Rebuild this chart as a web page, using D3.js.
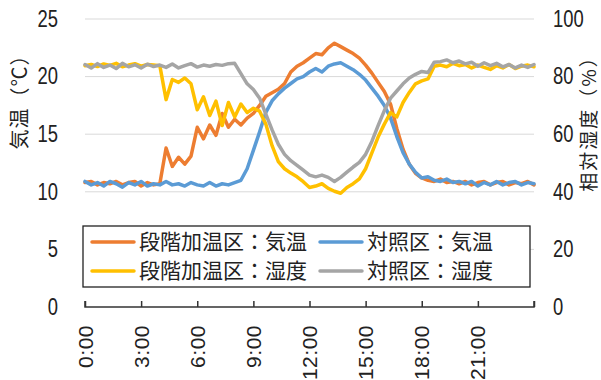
<!DOCTYPE html>
<html>
<head>
<meta charset="utf-8">
<script src="https://cdn.jsdelivr.net/npm/d3@7"></script>
<style>
  body { margin: 0; background: #fff; }
  svg text { fill: #222; }
</style>
</head>
<body>
<div id="chart"></div>
<script>
// readings every 20 minutes, 0:00 .. 24:00
const hours = d3.range(0, 73).map(i => i / 3);

const stepTemp = [10.8, 10.9, 10.6, 10.8, 10.7, 10.9, 10.6, 10.8, 10.9, 10.5, 10.8, 10.6,
  10.7, 13.8, 12.2, 13.0, 12.4, 13.1, 15.6, 14.6, 15.8, 14.9, 16.8, 15.6,
  16.3, 15.8, 16.4, 16.8, 17.5, 18.3, 18.6, 18.9, 19.4, 20.4, 20.9, 21.2,
  21.6, 22.0, 21.9, 22.5, 22.9, 22.6, 22.3, 22.0, 21.6, 21.0, 20.3, 19.5,
  18.7, 17.6, 15.5, 13.7, 12.4, 11.6, 11.2, 11.0, 10.9, 11.1, 10.8, 10.9,
  10.7, 10.9, 10.6, 10.8, 10.9, 10.6, 10.8, 10.9, 10.6, 10.8, 10.7, 10.9, 10.6];

const ctrlTemp = [10.9, 10.6, 10.8, 10.5, 10.9, 10.7, 10.4, 10.8, 10.6, 10.9, 10.5, 10.7,
  10.6, 10.9, 10.6, 10.7, 10.5, 10.8, 10.6, 10.5, 10.8, 10.5, 10.7, 10.6,
  10.8, 11.0, 12.0, 13.6, 15.2, 16.9, 17.9, 18.5, 19.0, 19.4, 19.8, 20.0,
  20.4, 20.7, 20.4, 20.9, 21.1, 21.2, 20.9, 20.6, 20.2, 19.7, 19.0, 18.3,
  17.5, 16.4, 14.8, 13.4, 12.4, 11.7, 11.2, 11.3, 11.0, 10.9, 11.1, 10.8,
  10.9, 10.7, 10.9, 10.5, 10.8, 10.6, 10.9, 10.6, 10.8, 10.9, 10.6, 10.8, 10.7];

const stepHum = [83.8, 84.2, 83.5, 84.4, 83.9, 84.6, 83.4, 84.0, 84.5, 83.6, 84.2, 84.0,
  83.8, 72.0, 79.0, 78.0, 79.5, 77.5, 68.5, 73.0, 66.5, 71.5, 63.0, 71.0,
  66.0, 70.5, 67.5, 69.0, 68.0, 63.5, 56.0, 50.5, 48.0, 46.5, 45.2, 43.5,
  41.5, 42.0, 42.8, 41.2, 40.2, 39.5, 41.5, 42.8, 44.5, 48.0, 53.5, 59.0,
  63.5, 67.5, 66.0, 71.0, 74.5, 77.5, 78.5, 79.2, 83.6, 84.0, 83.4, 84.6,
  83.8, 84.2, 83.0, 84.0, 83.2, 82.5, 83.8, 83.0, 84.2, 82.8, 83.6, 84.0, 83.4];

const ctrlHum = [84.2, 83.0, 84.5, 83.2, 84.0, 82.8, 84.6, 83.4, 84.1, 83.0, 84.3, 83.5,
  84.0, 83.2, 84.4, 83.0, 83.8, 84.5, 83.3, 84.0, 83.6, 84.2, 83.9, 84.5,
  84.6, 81.0, 77.5, 75.5, 72.5, 67.0, 61.5, 56.5, 53.0, 50.8, 49.2, 47.5,
  45.8, 45.2, 45.8, 45.0, 43.6, 45.0, 46.8, 48.6, 50.2, 53.0, 57.5, 63.0,
  68.2, 72.5, 75.0, 77.5, 79.5, 80.8, 81.8, 81.4, 85.0, 85.2, 85.8, 84.8,
  85.4, 84.4, 85.0, 83.6, 84.8, 83.8, 84.6, 83.4, 84.2, 83.0, 84.0, 83.2, 84.2];

const timeTicks = [0, 3, 6, 9, 12, 15, 18, 21, 24];
const timeLabels = ["0:00", "3:00", "6:00", "9:00", "12:00", "15:00", "18:00", "21:00"];
const tempTicks = [0, 5, 10, 15, 20, 25];
const humTicks = [0, 20, 40, 60, 80, 100];

const seriesNames = ["段階加温区：気温", "対照区：気温", "段階加温区：湿度", "対照区：湿度"];
const colors = ["#ED7D31", "#5B9BD5", "#FFC000", "#A5A5A5"];

const width = 601, height = 380;
const numFont = "'Liberation Sans', Arial, sans-serif";
const jpFont = "'Noto Sans CJK JP', sans-serif";

const svg = d3.select("#chart").append("svg")
  .attr("width", width)
  .attr("height", height);

const x = d3.scaleLinear().domain([0, 24]).range([85, 534]);
const yT = d3.scaleLinear().domain([0, 25]).range([307, 19]);
const yH = d3.scaleLinear().domain([0, 100]).range([307, 19]);

// gridlines
svg.append("g")
  .selectAll("line")
  .data(tempTicks.slice(1))
  .join("line")
  .attr("x1", x(0)).attr("x2", x(24))
  .attr("y1", d => yT(d)).attr("y2", d => yT(d))
  .attr("stroke", "#d9d9d9")
  .attr("stroke-width", 1);

// left axis (digits are condensed in the original, so squeeze them)
const leftAxis = svg.append("g")
  .attr("transform", "translate(58,0)")
  .call(d3.axisLeft(yT).tickValues(tempTicks).tickSize(0).tickPadding(0));
leftAxis.select(".domain").remove();
leftAxis.selectAll("text")
  .attr("transform", "scale(0.8,1)")
  .style("font-family", numFont).style("font-size", "23px").attr("fill", "#222");

// right axis
const rightAxis = svg.append("g")
  .attr("transform", "translate(553,0)")
  .call(d3.axisRight(yH).tickValues(humTicks).tickSize(0).tickPadding(0));
rightAxis.select(".domain").remove();
rightAxis.selectAll("text")
  .attr("transform", "scale(0.8,1)")
  .style("font-family", numFont).style("font-size", "23px").attr("fill", "#222");

// bottom axis, ticks point up into the plot
const bottomAxis = svg.append("g")
  .attr("transform", `translate(0,${yT(0)})`)
  .call(d3.axisTop(x).tickValues(timeTicks).tickSize(6).tickFormat(""));
bottomAxis.select(".domain")
  .attr("d", `M${x(0)},-6V0H${x(24)}V-6`)
  .attr("stroke", "#333").attr("stroke-width", 1.5);
bottomAxis.selectAll(".tick line").attr("stroke", "#333").attr("stroke-width", 1.5);

svg.append("g")
  .selectAll("text")
  .data(timeLabels)
  .join("text")
  .attr("transform", (d, i) => `translate(${x(timeTicks[i]) + 7.5},325) rotate(-90)`)
  .attr("text-anchor", "end")
  .style("font-family", numFont)
  .style("font-size", "21px")
  .style("letter-spacing", "0.5px")
  .text(d => d);

// axis titles
svg.append("text")
  .attr("transform", "translate(20,97) rotate(-90)")
  .attr("text-anchor", "middle")
  .attr("dy", "0.35em")
  .style("font-family", jpFont)
  .style("font-size", "20px")
  .style("letter-spacing", "1px")
  .text("気温（℃）");

svg.append("text")
  .attr("transform", "translate(589,119) rotate(-90)")
  .attr("text-anchor", "middle")
  .attr("dy", "0.35em")
  .style("font-family", jpFont)
  .style("font-size", "19px")
  .style("letter-spacing", "2px")
  .text("相対湿度（%）");

// lines
const series = [
  { values: stepTemp, y: yT },
  { values: ctrlTemp, y: yT },
  { values: stepHum, y: yH },
  { values: ctrlHum, y: yH }
];

series.forEach((s, k) => {
  const line = d3.line()
    .x((d, i) => x(hours[i]))
    .y(d => s.y(d));
  svg.append("path")
    .datum(s.values)
    .attr("d", line)
    .attr("fill", "none")
    .attr("stroke", colors[k])
    .attr("stroke-width", 3.5)
    .attr("stroke-linejoin", "round")
    .attr("stroke-linecap", "round");
});

// legend
const legend = svg.append("g").attr("transform", "translate(83,226)");
legend.append("rect")
  .attr("width", 447).attr("height", 61)
  .attr("fill", "#fff")
  .attr("stroke", "#222").attr("stroke-width", 1.3);

seriesNames.forEach((name, i) => {
  const col = i % 2, row = Math.floor(i / 2);
  const g = legend.append("g")
    .attr("transform", `translate(${9 + col * 228},${16 + row * 29})`);
  g.append("line")
    .attr("x1", 0).attr("x2", 42)
    .attr("stroke", colors[i])
    .attr("stroke-width", 3.5)
    .attr("stroke-linecap", "round");
  g.append("text")
    .attr("x", 47)
    .attr("dy", "0.35em")
    .style("font-family", jpFont)
    .style("font-size", "21px")
    .text(name);
});
</script>
</body>
</html>
